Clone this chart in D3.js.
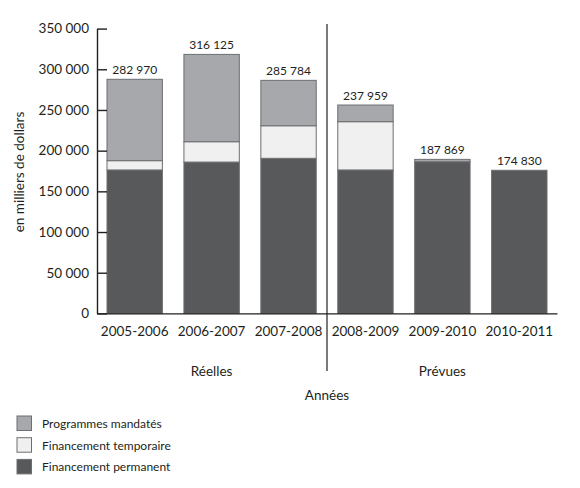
<!DOCTYPE html>
<html lang="fr">
  <head>
    <meta charset="UTF-8" />
    <title>Dépenses</title>
    <script src="https://d3js.org/d3.v7.min.js"></script>
    <style>
      body {
        margin: 0;
        background: #fff;
      }
      svg {
        font-family: Lato, "DejaVu Sans", sans-serif;
      }
    </style>
  </head>
  <body>
    <script>
      // Years and values (thousands of dollars)
      const years = ["2005-2006", "2006-2007", "2007-2008", "2008-2009", "2009-2010", "2010-2011"];
      const permanent = [176300, 186000, 190600, 176300, 186400, 175900];
      const temporary = [11400, 25000, 40000, 59300, 0, 0];
      const mandated = [100000, 107300, 55800, 20500, 2900, 0];
      const totalLabels = ["282 970", "316 125", "285 784", "237 959", "187 869", "174 830"];
      const yTicks = [0, 50000, 100000, 150000, 200000, 250000, 300000, 350000];
      const groups = ["Réelles", "Prévues"];
      const groupOf = [0, 0, 0, 1, 1, 1];

      const seriesKeys = ["permanent", "temporary", "mandated"];
      const seriesNames = {
        mandated: "Programmes mandatés",
        temporary: "Financement temporaire",
        permanent: "Financement permanent",
      };
      const colors = {
        mandated: "#a7a8ab",
        temporary: "#f0f0f0",
        permanent: "#58595b",
      };

      const rows = years.map((y, i) => ({
        year: y,
        permanent: permanent[i],
        temporary: temporary[i],
        mandated: mandated[i],
      }));

      const width = 580,
        height = 488;
      const svg = d3.select("body").append("svg").attr("width", width).attr("height", height);

      const x = d3.scaleBand().domain(years).range([97, 557]).paddingInner(0.28).paddingOuter(0.13);
      const y = d3.scaleLinear().domain([0, 350000]).range([313.4, 28.6]);

      const stack = d3.stack().keys(seriesKeys)(rows);

      // bars
      svg
        .selectAll("g.layer")
        .data(stack)
        .join("g")
        .attr("class", "layer")
        .attr("fill", (d) => colors[d.key])
        .selectAll("rect")
        .data((d) => d.filter((s) => s[1] - s[0] > 0))
        .join("rect")
        .attr("x", (d) => x(d.data.year))
        .attr("width", x.bandwidth())
        .attr("y", (d) => y(d[1]))
        .attr("height", (d) => y(d[0]) - y(d[1]))
        .attr("stroke", "#6d6e71")
        .attr("stroke-width", 1);

      // total labels
      svg
        .selectAll("text.total")
        .data(rows)
        .join("text")
        .attr("class", "total")
        .attr("x", (d) => x(d.year) + x.bandwidth() / 2)
        .attr("y", (d) => y(d.permanent + d.temporary + d.mandated) - 5)
        .attr("text-anchor", "middle")
        .attr("font-size", 12)
        .attr("fill", "#231f20")
        .text((d, i) => totalLabels[i]);

      // y axis
      const yAxis = svg
        .append("g")
        .attr("transform", "translate(97,0)")
        .call(
          d3
            .axisLeft(y)
            .tickValues(yTicks)
            .tickSizeInner(-10)
            .tickSizeOuter(0)
            .tickPadding(8)
            .tickFormat((d) => d3.format(",")(d).replace(/,/g, " "))
        );
      yAxis.select(".domain").attr("stroke", "#231f20").attr("stroke-width", 1.4);
      yAxis.selectAll(".tick line").attr("stroke", "#231f20").attr("stroke-width", 1.4);
      yAxis.selectAll(".tick text").attr("font-size", 13.5).attr("fill", "#231f20").attr("font-family", "Lato");

      // x axis
      const xAxis = svg
        .append("g")
        .attr("transform", "translate(0,313.4)")
        .call(d3.axisBottom(x).tickSize(0).tickPadding(13));
      xAxis.select(".domain").attr("stroke", "#231f20").attr("stroke-width", 1.4);
      xAxis.selectAll(".tick text").attr("font-size", 13.5).attr("fill", "#231f20").attr("font-family", "Lato");

      // divider between actual and planned
      const divX = (x(years[2]) + x.bandwidth() + x(years[3])) / 2;
      svg
        .append("line")
        .attr("x1", divX)
        .attr("x2", divX)
        .attr("y1", 24)
        .attr("y2", 371)
        .attr("stroke", "#231f20")
        .attr("stroke-width", 1.2);

      // group labels
      groups.forEach((g, gi) => {
        const ys = years.filter((_, i) => groupOf[i] === gi);
        const cx = (x(ys[0]) + x(ys[ys.length - 1]) + x.bandwidth()) / 2;
        svg
          .append("text")
          .attr("x", cx)
          .attr("y", 376)
          .attr("text-anchor", "middle")
          .attr("font-size", 13.5)
          .attr("fill", "#231f20")
          .text(g);
      });

      svg
        .append("text")
        .attr("x", divX)
        .attr("y", 400)
        .attr("text-anchor", "middle")
        .attr("font-size", 13.5)
        .attr("fill", "#231f20")
        .text("Années");

      svg
        .append("text")
        .attr("transform", "translate(24,172) rotate(-90)")
        .attr("text-anchor", "middle")
        .attr("font-size", 13.5)
        .attr("fill", "#231f20")
        .text("en milliers de dollars");

      // legend
      const legendKeys = ["mandated", "temporary", "permanent"];
      const lg = svg
        .selectAll("g.legend")
        .data(legendKeys)
        .join("g")
        .attr("class", "legend")
        .attr("transform", (d, i) => `translate(17,${416 + i * 21.7})`);
      lg.append("rect")
        .attr("width", 14.5)
        .attr("height", 14.5)
        .attr("fill", (d) => colors[d])
        .attr("stroke", "#6d6e71")
        .attr("stroke-width", 1);
      lg.append("text")
        .attr("x", 25)
        .attr("y", 12)
        .attr("font-size", 12)
        .attr("fill", "#231f20")
        .text((d) => seriesNames[d]);
    </script>
  </body>
</html>
